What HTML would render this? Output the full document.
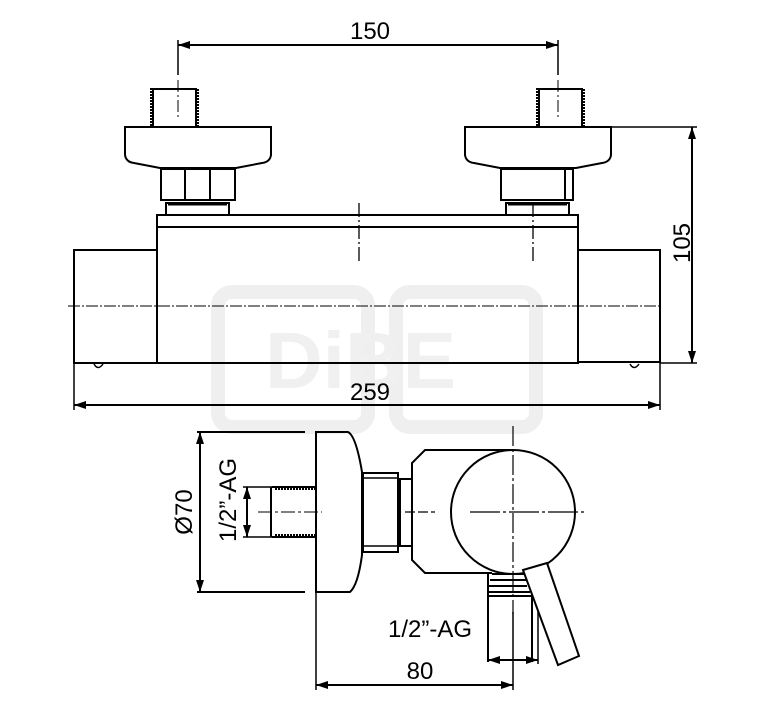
<!DOCTYPE html>
<html><head><meta charset="utf-8"><style>
html,body{margin:0;padding:0;background:#fff;}
svg{display:block;}
text{font-family:"Liberation Sans",sans-serif;fill:#000;}
</style></head><body>
<svg width="767" height="709" viewBox="0 0 767 709" xmlns="http://www.w3.org/2000/svg">
<defs>
<marker id="a" viewBox="0 0 12 8" refX="12" refY="4" markerWidth="12" markerHeight="8" orient="auto-start-reverse" markerUnits="userSpaceOnUse"><path d="M0,0 L12,4 L0,8 Z" fill="#000"/></marker>
</defs>
<!-- watermark -->
<g fill="none" stroke="#efefef" stroke-width="14">
<rect x="218" y="292" width="150" height="135" rx="14"/>
<rect x="396" y="292" width="140" height="135" rx="14"/>
</g>
<text x="265" y="388" font-size="80" font-family="Liberation Serif,serif" font-weight="bold" style="fill:#f0f0f0">DiBE</text>

<g stroke="#000" stroke-width="2" fill="none">
<line x1="178" y1="45" x2="558" y2="45" marker-start="url(#a)" marker-end="url(#a)"/>
<line x1="178" y1="40" x2="178" y2="75" stroke-width="1.5"/>
<line x1="558" y1="40" x2="558" y2="75" stroke-width="1.5"/>
<line x1="178" y1="80" x2="178" y2="118" stroke-width="1" stroke-dasharray="12,3,2,3"/>
<line x1="558" y1="80" x2="558" y2="118" stroke-width="1" stroke-dasharray="12,3,2,3"/>

<path d="M151,126 V89 H198 V126" stroke-dasharray="2,1"/>
<path d="M153,126 V89 H196 V126"/>
<path d="M537,126 V89 H584 V126" stroke-dasharray="2,1"/>
<path d="M539,126 V89 H582 V126"/>

<path d="M125,127 H271 V155 Q270,162 262,163 L236,168 H160 L134,163 Q126,162 125,155 Z"/>
<path d="M465,127 H611 V155 Q610,162 602,163 L576,168 H500 L474,163 Q466,162 465,155 Z"/>
<rect x="161" y="169" width="74" height="31"/>
<line x1="185" y1="169" x2="185" y2="200"/>
<line x1="210" y1="169" x2="210" y2="200"/>
<rect x="501" y="169" width="72" height="31"/>
<line x1="565" y1="169" x2="565" y2="200"/>
<rect x="166" y="203" width="63" height="12"/>
<line x1="168" y1="204" x2="227" y2="204" stroke-width="3"/>
<rect x="506" y="203" width="63" height="12"/>
<line x1="508" y1="204" x2="567" y2="204" stroke-width="3"/>

<rect x="157" y="215" width="421" height="148"/>
<line x1="157" y1="227" x2="578" y2="227"/>
<rect x="74" y="250" width="83" height="113"/>
<rect x="578" y="250" width="82" height="112"/>
<path d="M94,364 Q98,371 103,364" stroke-width="1.5"/>
<path d="M630,364 Q634,371 639,364" stroke-width="1.5"/>
<line x1="68" y1="306" x2="662" y2="306" stroke-width="1" stroke-dasharray="12,2,2,2"/>
<line x1="359" y1="203" x2="359" y2="262" stroke-width="1.3" stroke-dasharray="14,3,2,3"/>
<line x1="533" y1="203" x2="533" y2="262" stroke-width="1.3" stroke-dasharray="14,3,2,3"/>

<line x1="611" y1="127" x2="697" y2="127" stroke-width="1.5"/>
<line x1="660" y1="363" x2="697" y2="363" stroke-width="1.5"/>
<line x1="692" y1="127" x2="692" y2="363" marker-start="url(#a)" marker-end="url(#a)"/>
<line x1="74" y1="363" x2="74" y2="410" stroke-width="1.5"/>
<line x1="660" y1="362" x2="660" y2="410" stroke-width="1.5"/>
<line x1="74" y1="405" x2="660" y2="405" marker-start="url(#a)" marker-end="url(#a)"/>

<line x1="197" y1="432" x2="305" y2="432"/>
<line x1="197" y1="592" x2="305" y2="592"/>
<line x1="200" y1="432" x2="200" y2="592" marker-start="url(#a)" marker-end="url(#a)"/>
<line x1="243" y1="487" x2="272" y2="487" stroke-width="1.5"/>
<line x1="243" y1="537" x2="272" y2="537" stroke-width="1.5"/>
<line x1="247" y1="487" x2="247" y2="537" marker-start="url(#a)" marker-end="url(#a)"/>
<line x1="271" y1="487" x2="271" y2="537"/>
<line x1="272" y1="487" x2="315" y2="487"/>
<line x1="272" y1="537" x2="315" y2="537"/>
<line x1="275" y1="489" x2="315" y2="489" stroke-dasharray="2,1"/>
<line x1="275" y1="535" x2="315" y2="535" stroke-dasharray="2,1"/>
<line x1="258" y1="512" x2="322" y2="512" stroke-width="1" stroke-dasharray="14,3,3,3"/>
<path d="M316,432 H348 Q356,436 362,472 V555 Q358,585 350,592 H316 Z"/>
<rect x="363" y="473" width="35" height="79"/>
<line x1="363" y1="478" x2="398" y2="478" stroke-width="1.5"/>
<line x1="363" y1="546" x2="398" y2="546" stroke-width="1.5"/>
<rect x="400" y="479" width="12" height="67"/>
<path d="M513,450 H425 L412,463 V560 L425,573 H492"/>
<circle cx="513" cy="512" r="62"/>
<line x1="513" y1="426" x2="513" y2="614" stroke-width="1.2" stroke-dasharray="20,3,3,3"/>
<line x1="405" y1="512" x2="435" y2="512" stroke-width="1.2" stroke-dasharray="10,3"/>
<line x1="470" y1="512" x2="584" y2="512" stroke-width="1.2" stroke-dasharray="30,3,3,3"/>
<path d="M492,574 H524 M490,580 H527 M487,586 H527 M487,592 H530 M487,596 H532"/>
<line x1="488" y1="574" x2="488" y2="662"/>
<line x1="532" y1="596" x2="532" y2="662"/>
<line x1="538" y1="598" x2="538" y2="664" stroke-width="1.5"/>
<line x1="488" y1="660" x2="538" y2="660" marker-start="url(#a)" marker-end="url(#a)"/>
<path d="M523,570 L547,563 L579,656 L558,665 Z" fill="#fff"/>
<line x1="316" y1="592" x2="316" y2="690" stroke-width="1.5"/>
<line x1="513" y1="612" x2="513" y2="690" stroke-width="1.5"/>
<line x1="316" y1="685" x2="513" y2="685" marker-start="url(#a)" marker-end="url(#a)"/>
</g>

<g font-size="24">
<text x="370" y="39" text-anchor="middle">150</text>
<text x="370" y="400" text-anchor="middle">259</text>
<text transform="translate(690,243) rotate(-90)" text-anchor="middle">105</text>
<text transform="translate(192,512) rotate(-90)" text-anchor="middle">Ø70</text>
<text transform="translate(236,500) rotate(-90)" text-anchor="middle">1/2”-AG</text>
<text x="430" y="637" text-anchor="middle">1/2”-AG</text>
<text x="420" y="679" text-anchor="middle">80</text>
</g>
</svg>
</body></html>
